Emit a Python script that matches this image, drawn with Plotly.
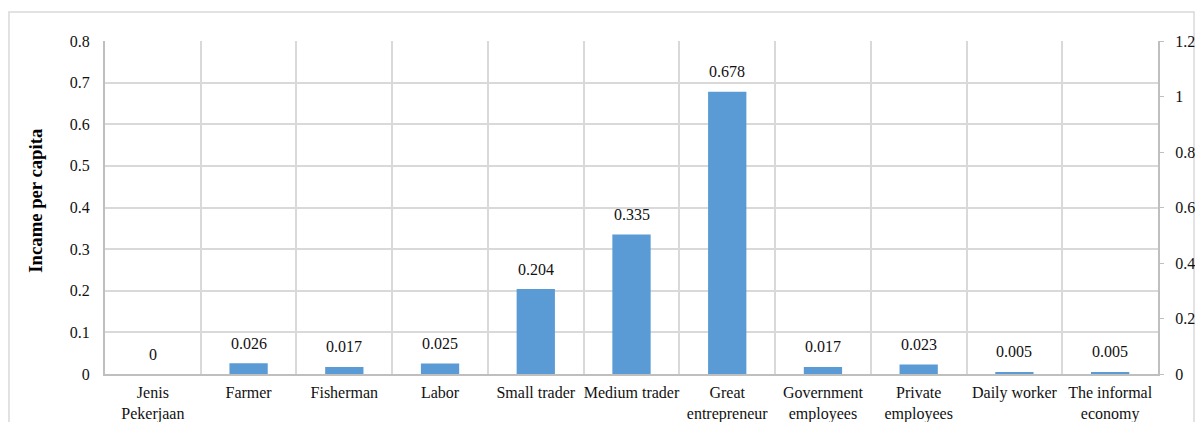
import plotly.graph_objects as go

categories = ["Jenis<br>Pekerjaan", "Farmer", "Fisherman", "Labor", "Small trader",
              "Medium trader", "Great<br>entrepreneur", "Government<br>employees",
              "Private<br>employees", "Daily worker", "The informal<br>economy"]
values = [0, 0.026, 0.017, 0.025, 0.204, 0.335, 0.678, 0.017, 0.023, 0.005, 0.005]
value_labels = ["0", "0.026", "0.017", "0.025", "0.204", "0.335", "0.678", "0.017", "0.023", "0.005", "0.005"]
left_ticks = [0, 0.1, 0.2, 0.3, 0.4, 0.5, 0.6, 0.7, 0.8]
left_ticktext = ["0", "0.1", "0.2", "0.3", "0.4", "0.5", "0.6", "0.7", "0.8"]
right_ticks = [0, 0.2, 0.4, 0.6, 0.8, 1.0, 1.2]
right_ticktext = ["0", "0.2", "0.4", "0.6", "0.8", "1", "1.2"]

FONT = "Liberation Serif, Times New Roman, serif"
GRID = "#D9D9D9"
AXIS = "#BFBFBF"
TXT = "#111"
FS = 16

fig = go.Figure()
fig.add_trace(go.Bar(x=categories, y=values, marker_color="#5B9BD5",
                     marker_line_width=0, showlegend=False, hoverinfo="skip"))
fig.add_trace(go.Scatter(x=categories, y=[None] * len(categories), yaxis="y2",
                         mode="lines", showlegend=False, hoverinfo="skip"))

for c, v, t in zip(categories, values, value_labels):
    fig.add_annotation(x=c, y=v, text=t, showarrow=False, yshift=20,
                       font=dict(family=FONT, size=FS, color=TXT))

fig.add_annotation(xref="paper", yref="paper", x=-0.066, y=0.522, xanchor="center", yanchor="middle",
                   text="<b>Incame per capita</b>", textangle=-90, showarrow=False,
                   font=dict(family=FONT, size=18.7, color="#000"))

fig.add_shape(type="rect", xref="paper", yref="paper", x0=-0.0912, x1=1.0342, y0=-0.25, y1=1.087,
              line=dict(color=GRID, width=1.5), fillcolor="rgba(0,0,0,0)", layer="below")

fig.update_layout(
    width=1187, height=414,
    margin=dict(l=97, r=37, t=33, b=48),
    paper_bgcolor="white", plot_bgcolor="white",
    bargap=0.6,
    font=dict(family=FONT, size=FS, color=TXT),
    xaxis=dict(type="category", tickson="boundaries", showgrid=True, gridcolor=GRID, gridwidth=1.5,
               ticks="", showline=True, linecolor=AXIS, linewidth=2, tickangle=0, automargin=False,
               ticklabelstandoff=3,
               tickfont=dict(family=FONT, size=FS, color=TXT), fixedrange=True),
    yaxis=dict(range=[0, 0.8], tickvals=left_ticks, ticktext=left_ticktext, showgrid=True,
               gridcolor=GRID, gridwidth=1.5, zeroline=False, showline=True, linecolor=AXIS,
               linewidth=2, ticks="", ticklabelstandoff=10, automargin=False,
               tickfont=dict(family=FONT, size=FS, color=TXT)),
    yaxis2=dict(range=[0, 1.2], tickvals=right_ticks, ticktext=right_ticktext, overlaying="y",
                side="right", showgrid=False, zeroline=False, showline=True, linecolor=AXIS,
                linewidth=2, ticks="outside", ticklen=4, tickcolor=AXIS, ticklabelstandoff=8,
                automargin=False, tickfont=dict(family=FONT, size=FS, color=TXT)),
)

fig.write_html("out.html")
